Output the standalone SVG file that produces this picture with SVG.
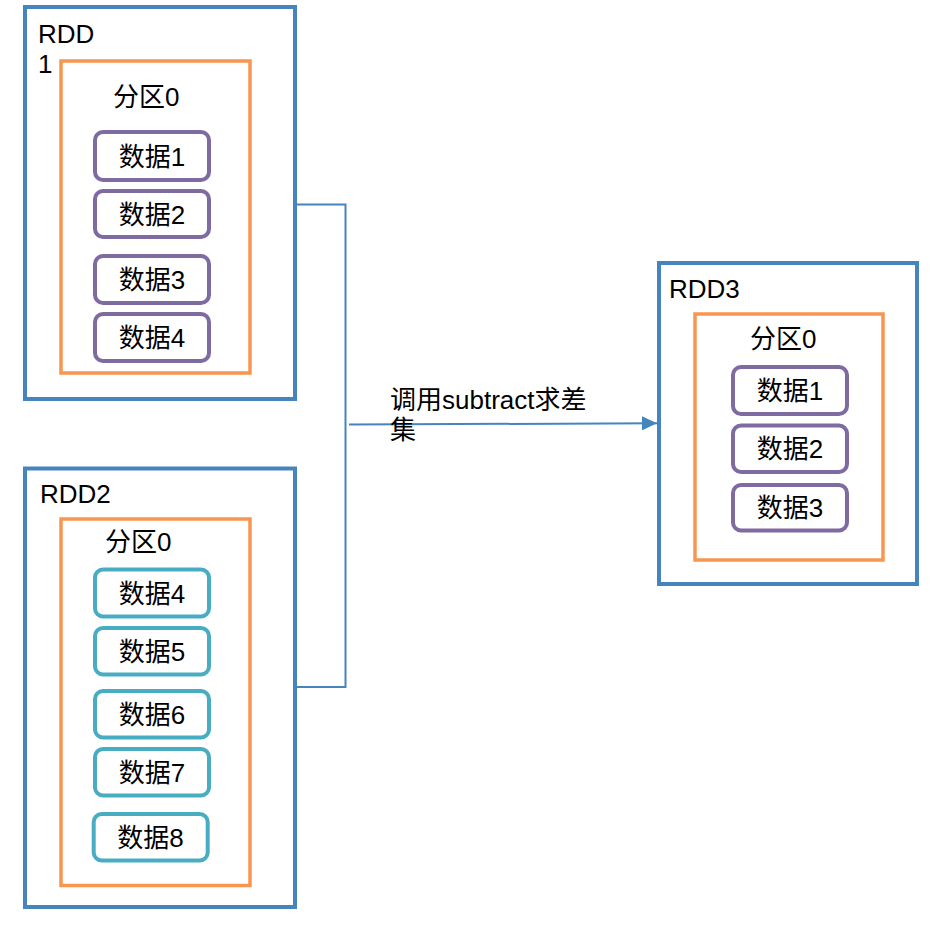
<svg xmlns="http://www.w3.org/2000/svg" width="930" height="937" viewBox="0 0 930 937">
<defs>
<style>
text{font-family:"Liberation Sans","Noto Sans CJK SC",sans-serif;font-size:26px;fill:#000}
.rdd{fill:none;stroke:#4584BD;stroke-width:4}
.part{fill:none;stroke:#F8964F;stroke-width:3.5}
.dp{fill:#fff;stroke:#7E6BA1;stroke-width:4}
.dt{fill:#fff;stroke:#48ADC3;stroke-width:4}
.c{text-anchor:middle}
.conn{fill:none;stroke:#4584BD;stroke-width:2}
</style>
<marker id="arr" markerWidth="15" markerHeight="14" refX="15" refY="7" orient="auto" markerUnits="userSpaceOnUse">
<path d="M0,0 L15,7 L0,14 Z" fill="#4584BD"/>
</marker>
</defs>
<rect width="930" height="937" fill="#fff"/>
<g id="rdd1">
<rect class="rdd" x="25" y="7" width="270" height="392"/>
<text x="38" y="43">RDD</text>
<text x="38" y="73">1</text>
<rect class="part" x="61" y="61" width="189" height="312"/>
<text x="113" y="106">分区0</text>
<rect class="dp" x="95" y="132" width="114" height="48" rx="8"/>
<text class="c" x="152" y="165.5">数据1</text>
<rect class="dp" x="95" y="191" width="114" height="46" rx="8"/>
<text class="c" x="152" y="223.5">数据2</text>
<rect class="dp" x="95" y="256" width="114" height="47" rx="8"/>
<text class="c" x="152" y="289">数据3</text>
<rect class="dp" x="95" y="314" width="114" height="47" rx="8"/>
<text class="c" x="152" y="347">数据4</text>
</g>
<g id="rdd2">
<rect class="rdd" x="25" y="468.5" width="270" height="438.5"/>
<text x="40" y="503">RDD2</text>
<rect class="part" x="61" y="519" width="189" height="366.5"/>
<text x="105" y="551">分区0</text>
<rect class="dt" x="95" y="569.5" width="114" height="47" rx="8"/>
<text class="c" x="152" y="602.5">数据4</text>
<rect class="dt" x="95" y="628" width="114" height="46.5" rx="8"/>
<text class="c" x="152" y="660.5">数据5</text>
<rect class="dt" x="95" y="691" width="114" height="46.5" rx="8"/>
<text class="c" x="152" y="723.5">数据6</text>
<rect class="dt" x="95" y="749" width="114" height="46.5" rx="8"/>
<text class="c" x="152" y="781.5">数据7</text>
<rect class="dt" x="93.7" y="814" width="114" height="46.5" rx="8"/>
<text class="c" x="150.6" y="846.5">数据8</text>
</g>
<g id="rdd3">
<rect class="rdd" x="659" y="263" width="258" height="321"/>
<text x="669" y="298">RDD3</text>
<rect class="part" x="695" y="314" width="188" height="246"/>
<text x="750" y="348">分区0</text>
<rect class="dp" x="733" y="367" width="114" height="47" rx="8"/>
<text class="c" x="790" y="400">数据1</text>
<rect class="dp" x="733" y="425.5" width="114" height="46.5" rx="8"/>
<text class="c" x="790" y="458">数据2</text>
<rect class="dp" x="733" y="485" width="114" height="45.5" rx="8"/>
<text class="c" x="790" y="517">数据3</text>
</g>
<g id="connectors">
<polyline class="conn" points="297,204.5 345.5,204.5 345.5,687 297,687"/>
<line class="conn" x1="349" y1="424.5" x2="657" y2="423.3" marker-end="url(#arr)"/>
<text x="390" y="409">调用subtract求差</text>
<text x="390" y="439">集</text>
</g>
</svg>
